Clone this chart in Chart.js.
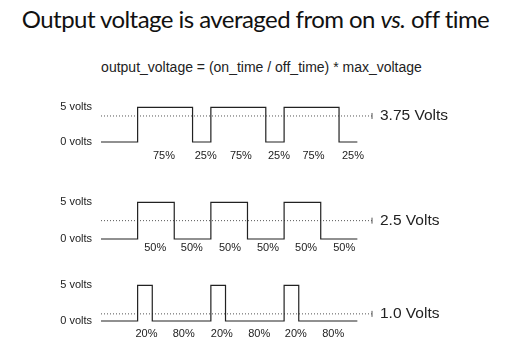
<!DOCTYPE html>
<html>
<head>
<meta charset="utf-8">
<script src="https://cdn.jsdelivr.net/npm/chart.js@4.4.1/dist/chart.umd.min.js"></script>
<style>
  body { margin: 0; background: #fff; width: 523px; height: 362px; position: relative; overflow: hidden; }
  #title { position: absolute; left: -6px; top: 4px; width: 523px; text-align: center; white-space: nowrap;
           font-family: Lato, "Open Sans", sans-serif; font-size: 24px; letter-spacing: -0.55px; color: #111; }
  #formula { position: absolute; left: 0; top: 59px; width: 523px; text-align: center;
             font-family: "Liberation Sans", Arial, sans-serif; font-size: 14px; color: #222; }
  canvas { position: absolute; left: 0; }
</style>
</head>
<body>
<div id="title">Output voltage is averaged from on <i>vs.</i> off time</div>
<div id="formula">output_voltage = (on_time / off_time) * max_voltage</div>
<canvas id="pwm75" width="523" height="80" style="top:90px"></canvas>
<canvas id="pwm50" width="523" height="80" style="top:185px"></canvas>
<canvas id="pwm20" width="523" height="80" style="top:268px"></canvas>
<script>
// edges of each square wave (time in % of one period) and the level held after each edge
const pwm75Times = [-50, 0, 75, 100, 175, 200, 275, 300];
const pwm75Levels = [0, 5, 0, 5, 0, 5, 0, 0];
const pwm50Times = [-50, 0, 50, 100, 150, 200, 250, 300];
const pwm50Levels = [0, 5, 0, 5, 0, 5, 0, 0];
const pwm20Times = [-50, 0, 20, 100, 120, 200, 220, 300];
const pwm20Levels = [0, 5, 0, 5, 0, 5, 0, 0];

// averaged output for each wave
const avgVoltages = [3.75, 2.5, 1.0];
const avgLabels = ["3.75 Volts", "2.5 Volts", "1.0 Volts"];

// duty cycle labels under the segments
const pct75Labels = ["75%", "25%", "75%", "25%", "75%", "25%"];
const pct75Positions = [36, 93, 141, 193, 240, 294];
const pct50Labels = ["50%", "50%", "50%", "50%", "50%", "50%"];
const pct50Positions = [24, 74, 126, 178, 230, 282];
const pct20Labels = ["20%", "80%", "20%", "80%", "20%", "80%"];
const pct20Positions = [12, 63, 115, 166, 216, 267];

const levelTicks = [0, 5];
const levelLabels = ["0 volts", "5 volts"];

const timeMin = -50;
const timeMax = 320;

Chart.defaults.font.family = "'Liberation Sans', Arial, sans-serif";
Chart.defaults.color = "#222";

function toPoints(xs, ys) {
  return xs.map(function (x, i) {
    return { x: x, y: ys[i] };
  });
}

function drawWave(canvasId, times, levels, avg, avgLabel, pctPositions, pctLabels, box) {
  const ctx = document.getElementById(canvasId).getContext("2d");
  return new Chart(ctx, {
    type: "line",
    data: {
      datasets: [
        {
          data: toPoints(times, levels),
          stepped: "before",
          borderColor: "#222",
          borderWidth: 1.2,
          pointRadius: 0,
          clip: false,
        },
        {
          data: toPoints([timeMin, timeMax], [avg, avg]),
          borderColor: "#555",
          borderWidth: 1,
          borderDash: [1, 2],
          pointRadius: [0, 3],
          pointStyle: "line",
          rotation: 90,
          pointBorderColor: "#555",
          pointBorderWidth: 1,
          clip: false,
        },
      ],
    },
    options: {
      responsive: false,
      animation: false,
      layout: { padding: { top: box.top, left: 0, right: 0, bottom: 0 } },
      plugins: { legend: { display: false }, tooltip: { enabled: false } },
      scales: {
        x: {
          type: "linear",
          min: timeMin,
          max: timeMax,
          grid: { display: false, drawTicks: false },
          border: { display: false },
          afterBuildTicks: function (scale) {
            scale.ticks = pctPositions.map(function (v) { return { value: v }; });
          },
          afterFit: function (scale) {
            scale.height = box.axisHeight;
          },
          ticks: {
            autoSkip: false,
            maxRotation: 0,
            minRotation: 0,
            padding: box.pctPad,
            font: { size: 11 },
            callback: function (value, index) {
              return pctLabels[index];
            },
          },
        },
        y: {
          position: "left",
          min: 0,
          max: 5,
          grid: { display: false, drawTicks: false },
          border: { display: false },
          afterBuildTicks: function (scale) {
            scale.ticks = levelTicks.map(function (v) { return { value: v }; });
          },
          afterFit: function (scale) {
            scale.width = 101;
          },
          ticks: {
            padding: 9,
            font: { size: 11 },
            callback: function (value) {
              return levelLabels[levelTicks.indexOf(value)];
            },
          },
        },
        avg: {
          position: "right",
          min: 0,
          max: 5,
          grid: { display: false, drawTicks: false },
          border: { display: false },
          afterBuildTicks: function (scale) {
            scale.ticks = [{ value: avg }];
          },
          afterFit: function (scale) {
            scale.width = 151;
          },
          ticks: {
            padding: 8,
            font: { size: 15.5 },
            callback: function () {
              return avgLabel;
            },
          },
        },
      },
    },
  });
}

drawWave("pwm75", pwm75Times, pwm75Levels, avgVoltages[0], avgLabels[0],
  pct75Positions, pct75Labels, { top: 16, axisHeight: 28, pctPad: 7 });
drawWave("pwm50", pwm50Times, pwm50Levels, avgVoltages[1], avgLabels[1],
  pct50Positions, pct50Labels, { top: 17, axisHeight: 26, pctPad: 2 });
drawWave("pwm20", pwm20Times, pwm20Levels, avgVoltages[2], avgLabels[2],
  pct20Positions, pct20Labels, { top: 17, axisHeight: 27, pctPad: 6 });
</script>
</body>
</html>
